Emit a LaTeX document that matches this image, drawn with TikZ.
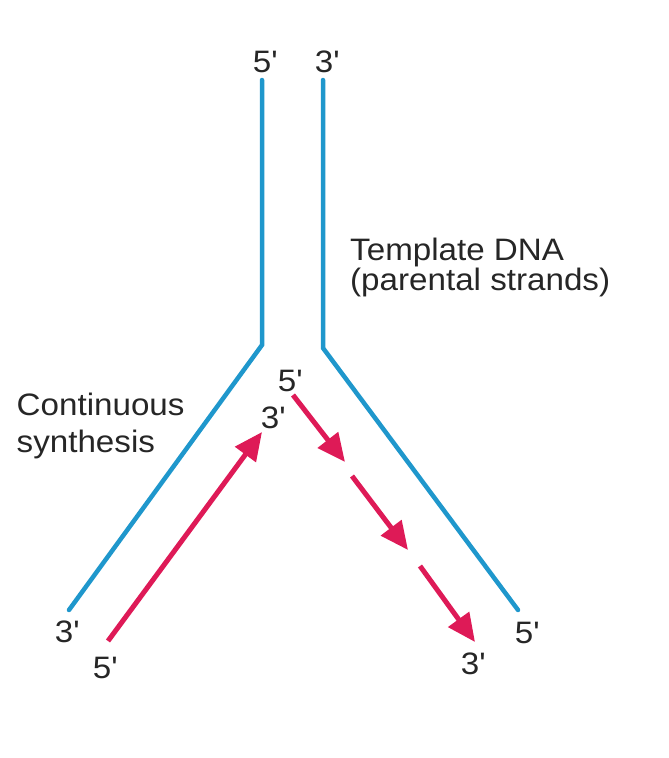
\documentclass[tikz,border=0pt]{standalone}
\usepackage{fontspec}
\setmainfont{Liberation Sans}[FakeStretch=1.07]
\usetikzlibrary{arrows.meta, positioning}
\definecolor{strandblue}{HTML}{1F97CC}
\definecolor{newred}{HTML}{DE1A57}
\newcommand{\apos}{\textquotesingle}
\tikzset{
  template/.style={draw=strandblue,line width=4.5pt,line cap=round,line join=miter},
  daughter/.style={draw=newred,line width=5pt,-{Triangle[length=28pt,width=25pt]}},
  endlabel/.style={inner sep=0pt,font=\fontsize{31}{31}\selectfont,text=black!85},
  caption/.style={inner sep=0pt,align=left,text=black!85},
}
\begin{document}
\begin{tikzpicture}[x=1pt,y=-1pt]
	    \useasboundingbox (0,0) rectangle (669,758);
	    % parental strands
	    \coordinate (LT) at (262,80);
	    \coordinate (LF) at (262,345);
	    \coordinate (LB) at (69,610);
	    \coordinate (RT) at (323,80);
	    \coordinate (RF) at (323,348);
	    \coordinate (RB) at (518,610);
	    \draw[template] (LT) -- (LF) -- (LB);
	    \draw[template] (RT) -- (RF) -- (RB);
	    % leading strand
	    \coordinate (A0) at (108,641);
	    \coordinate (A1) at (262,432);
	    \draw[daughter] (A0) -- (A1);
	    % lagging strand fragments
	    \coordinate (K0) at (293,395);
	    \coordinate (K1) at (345,462);
	    \coordinate (K2) at (352,476);
	    \coordinate (K3) at (408,550);
	    \coordinate (K4) at (420,566);
	    \coordinate (K5) at (475,642);
	    \draw[daughter] (K0) -- (K1);
	    \draw[daughter] (K2) -- (K3);
	    \draw[daughter] (K4) -- (K5);
	    % end labels
	    \node[endlabel] (lt) at (265,62) {5\apos};
	    \node[endlabel] (rt) at (327,62) {3\apos};
	    \node[endlabel] (lb) at (67,632) {3\apos};
	    \node[endlabel] (a0) at (105,668) {5\apos};
	    \node[endlabel] (a1) at (273,418) {3\apos};
	    \node[endlabel] (k0) at (290,381) {5\apos};
	    \node[endlabel] (k5) at (473,664) {3\apos};
	    \node[endlabel] (rb) at (527,633) {5\apos};
	    % captions
	    \node[caption,anchor=north west,font=\fontsize{31}{30}\selectfont] (tmpl) at (350,237.5)
	    	{Template DNA\\(parental strands)};
	    \node[caption,anchor=north west,font=\fontsize{31}{37}\selectfont] (cont) at (16.5,392.5)
	    	{Continuous\\synthesis};
	\end{tikzpicture}
\end{document}
